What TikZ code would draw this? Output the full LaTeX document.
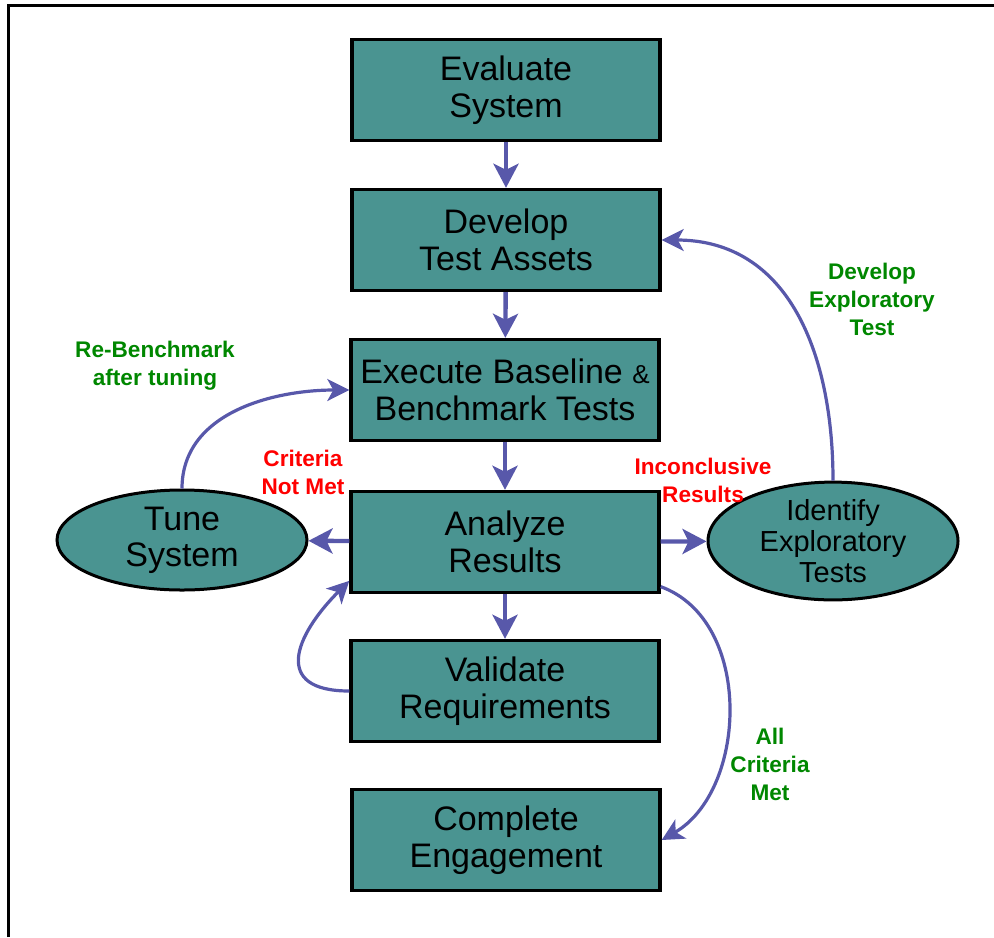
\documentclass[tikz,border=0pt]{standalone}
\usepackage{fontspec}
\setmainfont{Liberation Sans}
\usetikzlibrary{arrows.meta, shapes.geometric}

\definecolor{stagefill}{RGB}{74,148,145}
\definecolor{flowblue}{RGB}{88,88,170}
\definecolor{okgreen}{RGB}{0,135,0}

\tikzset{
  stage/.style={draw=black, line width=1.7pt, fill=stagefill, minimum width=154pt,
    minimum height=50.5pt, inner sep=0pt, align=center, font=\fontsize{17}{18.5}\selectfont},
  oval/.style={ellipse, draw=black, line width=1.5pt, fill=stagefill, minimum width=125pt,
    minimum height=50pt, inner sep=0pt, align=center},
  flow/.style={flowblue, line width=2.2pt, -{Stealth[length=12pt,width=12.5pt,inset=3pt]}},
  loop/.style={flowblue, line width=1.6pt, -{Stealth[length=11pt,width=11pt,inset=3pt]}},
  note/.style={font=\bfseries\fontsize{11.3}{14}\selectfont, align=center},
}

\begin{document}
\begin{tikzpicture}[x=0.5pt, y=0.5pt]
    \useasboundingbox (0,0) rectangle (994,-937);

    % Frame (only top and left edges show)
    \draw[line width=1.5pt] (8.5,-937) -- (8.5,-5) -- (994,-5);

    % Main stages
    \node[stage] (eval) at (506,-90) {Evaluate\\System};
    \node[stage] (assets) at (506,-240) {Develop\\Test Assets};
    \node[stage] (bench) at (505,-390) {Execute Baseline {\fontsize{13}{13}\selectfont\&}\\Benchmark Tests};
    \node[stage] (analyze) at (505,-542) {Analyze\\Results};
    \node[stage] (validate) at (505,-691) {Validate\\Requirements};
    \node[stage] (complete) at (506,-840) {Complete\\Engagement};

    % Side stages
    \node[oval, font=\fontsize{17}{18}\selectfont] (tune) at (182,-540) {Tune\\System};
    \node[oval, font=\fontsize{14.5}{15.5}\selectfont] (explore) at (833,-541) {Identify\\Exploratory\\Tests};

    % Straight flow
    \draw[flow] (eval) -- (assets);
    \draw[flow] (assets) -- (bench);
    \draw[flow] (bench) -- (analyze);
    \draw[flow] (analyze) -- (validate);
    \draw[flow] (analyze) -- (tune);
    \draw[flow] (analyze) -- (explore);

    % Loops back
    \draw[loop] (explore.north) to[out=90, in=0, looseness=1.1] (assets.east);
    \draw[loop] (tune.north) to[out=90, in=180] (bench.west);
    \draw[loop] (validate.west) to[out=180, in=225, looseness=1.8] (analyze.194);
    \draw[loop] (analyze.-16) to[out=-20, in=30] (complete.east);

    % Labels
    \node[note, okgreen] (rebench) at (155,-366) {Re-Benchmark\\after tuning};
    \node[note, red] (notmet) at (303,-472) {Criteria\\Not Met};
    \node[note, red] (inconcl) at (703,-480) {Inconclusive\\Results};
    \node[note, okgreen] (devexp) at (872,-299) {Develop\\Exploratory\\Test};
    \node[note, okgreen] (allmet) at (770,-764) {All\\Criteria\\Met};
\end{tikzpicture}
\end{document}
